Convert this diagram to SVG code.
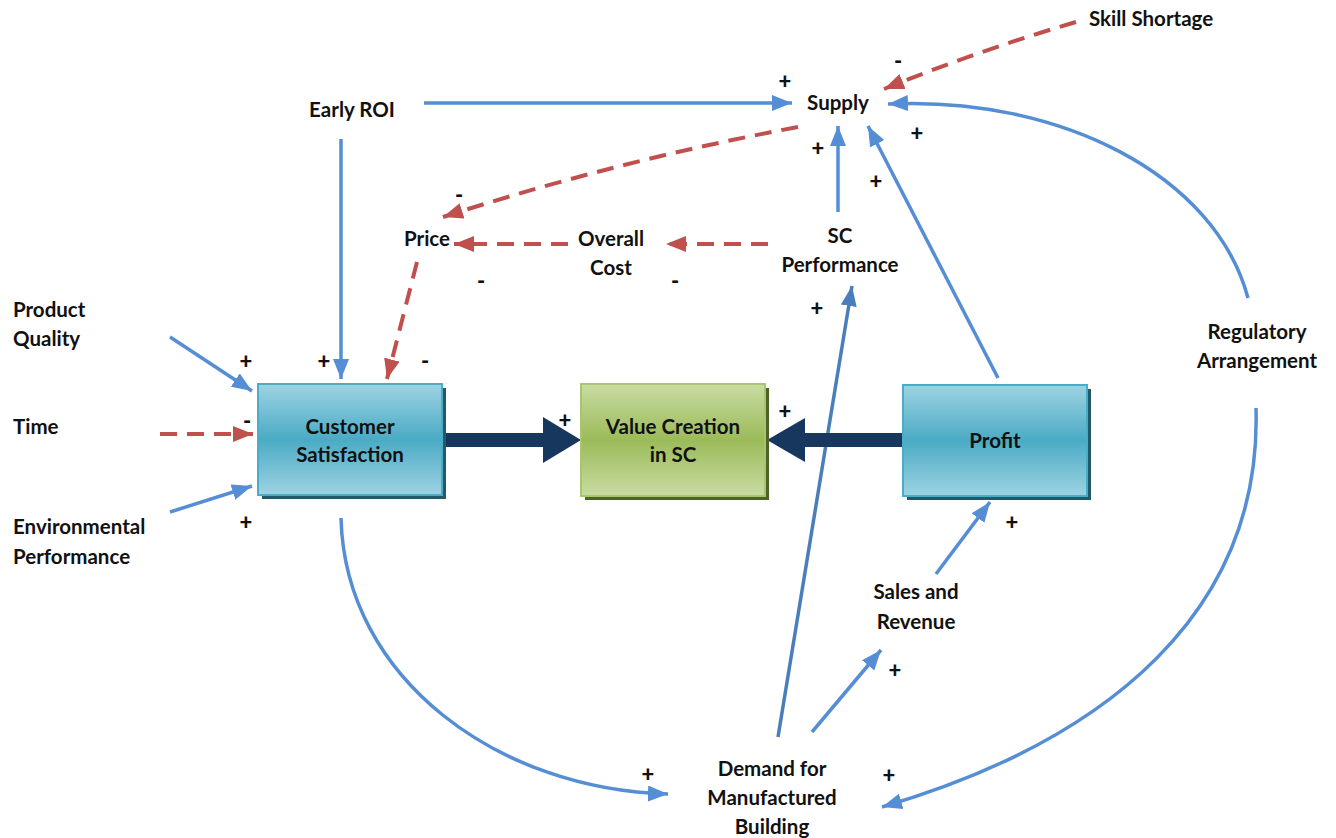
<svg xmlns="http://www.w3.org/2000/svg" width="1336" height="838" viewBox="0 0 1336 838">
  <defs>
    <linearGradient id="gTeal" x1="0" y1="0" x2="0" y2="1">
      <stop offset="0" stop-color="#9ED3E2"/>
      <stop offset="0.5" stop-color="#4AABC5"/>
      <stop offset="1" stop-color="#9ED3E2"/>
    </linearGradient>
    <linearGradient id="gGreen" x1="0" y1="0" x2="0" y2="1">
      <stop offset="0" stop-color="#C9DCA3"/>
      <stop offset="0.5" stop-color="#9BBB59"/>
      <stop offset="1" stop-color="#C9DCA3"/>
    </linearGradient>
    <marker id="aBlue" viewBox="0 0 20 16" refX="20" refY="8" markerWidth="20" markerHeight="16" markerUnits="userSpaceOnUse" orient="auto">
      <path d="M0,0 L20,8 L0,16 z" fill="#558ED5"/>
    </marker>
    <marker id="aBlueDark" viewBox="0 0 20 16" refX="20" refY="8" markerWidth="20" markerHeight="16" markerUnits="userSpaceOnUse" orient="auto">
      <path d="M0,0 L20,8 L0,16 z" fill="#4A7EBB"/>
    </marker>
    <marker id="aRed" viewBox="0 0 20 16" refX="20" refY="8" markerWidth="20" markerHeight="16" markerUnits="userSpaceOnUse" orient="auto">
      <path d="M0,0 L20,8 L0,16 z" fill="#C0504D"/>
    </marker>
  </defs>
  <style>
    text { font-family: Lato, "Liberation Sans", sans-serif; font-weight: bold; font-size: 20.5px; fill: #111; }
    .c { text-anchor: middle; }
    .sign { font-size: 22px; font-weight: 900; text-anchor: middle; }
    .pos { fill: none; stroke: #558ED5; stroke-width: 3.5; marker-end: url(#aBlue); }
    .posd { fill: none; stroke: #4A7EBB; stroke-width: 3.5; marker-end: url(#aBlueDark); }
    .neg { fill: none; stroke: #C0504D; stroke-width: 4; stroke-dasharray: 17 10; marker-end: url(#aRed); }
    .box-t { fill: url(#gTeal); stroke: #4BACC6; stroke-width: 2; }
    .box-g { fill: url(#gGreen); stroke: #A9C66F; stroke-width: 2; }
    .sh-t { fill: #215A69; }
    .sh-g { fill: #4F6228; }
    .thick { fill: #17375E; }
  </style>

  <!-- connectors -->
  <g id="connectors">
    <line class="pos" x1="424" y1="103" x2="792" y2="103"/>
    <line class="pos" x1="341" y1="139" x2="341" y2="379"/>
    <path class="neg" d="M1076,22 Q980,50 884,89"/>
    <path class="pos" d="M1248,298 C1215,175 1060,96 888,104"/>
    <path class="pos" d="M1256,408 C1262,610 1110,740 882,807"/>
    <line class="pos" x1="838" y1="212" x2="838" y2="126"/>
    <line class="pos" x1="998" y1="378" x2="868" y2="126"/>
    <path class="neg" d="M798,127 Q620,160 443,217"/>
    <line class="neg" x1="568" y1="244" x2="454" y2="244"/>
    <line class="neg" x1="768" y1="244" x2="666" y2="244"/>
    <line class="neg" x1="417" y1="262" x2="387" y2="379"/>
    <line class="pos" x1="170" y1="337" x2="252" y2="391"/>
    <line class="neg" x1="160" y1="434" x2="253" y2="434"/>
    <line class="pos" x1="170" y1="512" x2="252" y2="486"/>
    <path class="pos" d="M341,518 C345,680 500,790 668,794"/>
    <line class="posd" x1="778" y1="737" x2="852" y2="286"/>
    <line class="pos" x1="812" y1="732" x2="881" y2="650"/>
    <line class="pos" x1="936" y1="574" x2="990" y2="502"/>
    <!-- heavy links into value creation -->
    <rect class="thick" x="442" y="433" width="104" height="14"/>
    <path class="thick" d="M543,417 L581,440 L543,463 z"/>
    <rect class="thick" x="802" y="433" width="102" height="14"/>
    <path class="thick" d="M805,418 L767,440 L805,462 z"/>
  </g>

  <!-- boxed nodes -->
  <g id="customer-satisfaction">
    <rect class="sh-t" x="262" y="388" width="184" height="111"/>
    <rect class="box-t" x="258" y="384" width="184" height="111"/>
    <text class="c" x="350" y="434">Customer</text>
    <text class="c" x="350" y="462">Satisfaction</text>
  </g>
  <g id="value-creation">
    <rect class="sh-g" x="585" y="388" width="184" height="112"/>
    <rect class="box-g" x="581" y="384" width="184" height="112"/>
    <text class="c" x="673" y="434">Value Creation</text>
    <text class="c" x="673" y="462">in SC</text>
  </g>
  <g id="profit">
    <rect class="sh-t" x="907" y="389" width="184" height="111"/>
    <rect class="box-t" x="903" y="385" width="184" height="111"/>
    <text class="c" x="995" y="448">Profit</text>
  </g>

  <!-- variable nodes -->
  <g id="early-roi"><text class="c" x="352" y="117">Early ROI</text></g>
  <g id="supply"><text class="c" x="838" y="110">Supply</text></g>
  <g id="skill-shortage"><text x="1089" y="26">Skill Shortage</text></g>
  <g id="price"><text class="c" x="427" y="246">Price</text></g>
  <g id="overall-cost">
    <text class="c" x="611" y="246">Overall</text>
    <text class="c" x="611" y="275">Cost</text>
  </g>
  <g id="sc-performance">
    <text class="c" x="840" y="243">SC</text>
    <text class="c" x="840" y="272">Performance</text>
  </g>
  <g id="product-quality">
    <text x="13" y="317">Product</text>
    <text x="13" y="346">Quality</text>
  </g>
  <g id="time"><text x="13" y="434">Time</text></g>
  <g id="environmental-performance">
    <text x="13" y="534">Environmental</text>
    <text x="13" y="564">Performance</text>
  </g>
  <g id="regulatory-arrangement">
    <text class="c" x="1257" y="339">Regulatory</text>
    <text class="c" x="1257" y="368">Arrangement</text>
  </g>
  <g id="sales-revenue">
    <text class="c" x="916" y="599">Sales and</text>
    <text class="c" x="916" y="629">Revenue</text>
  </g>
  <g id="demand">
    <text class="c" x="772" y="776">Demand for</text>
    <text class="c" x="772" y="805">Manufactured</text>
    <text class="c" x="772" y="834">Building</text>
  </g>

  <!-- polarity signs -->
  <g id="signs">
    <text class="sign" x="785" y="89">+</text>
    <text class="sign" x="898" y="69">-</text>
    <text class="sign" x="917" y="141">+</text>
    <text class="sign" x="818" y="156">+</text>
    <text class="sign" x="876" y="189">+</text>
    <text class="sign" x="459" y="203">-</text>
    <text class="sign" x="481" y="289">-</text>
    <text class="sign" x="675" y="289">-</text>
    <text class="sign" x="817" y="316">+</text>
    <text class="sign" x="246" y="369">+</text>
    <text class="sign" x="324" y="369">+</text>
    <text class="sign" x="425" y="369">-</text>
    <text class="sign" x="247" y="429">-</text>
    <text class="sign" x="565" y="428">+</text>
    <text class="sign" x="785" y="419">+</text>
    <text class="sign" x="246" y="530">+</text>
    <text class="sign" x="1012" y="530">+</text>
    <text class="sign" x="895" y="678">+</text>
    <text class="sign" x="648" y="782">+</text>
    <text class="sign" x="889" y="783">+</text>
  </g>
</svg>
